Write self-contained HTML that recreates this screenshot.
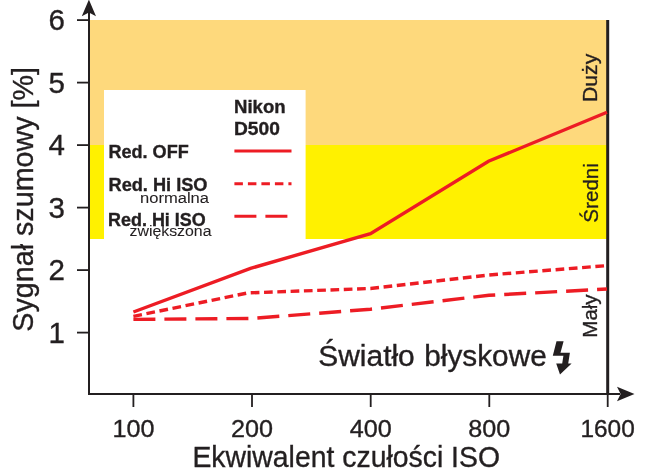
<!DOCTYPE html>
<html><head><meta charset="utf-8"><style>
html,body{margin:0;padding:0;background:#fff;width:650px;height:468px;overflow:hidden}
svg{display:block;will-change:transform}
text{font-family:"Liberation Sans",sans-serif;fill:#231F20;stroke:#231F20;stroke-width:0.35px}
</style></head><body>
<svg width="650" height="468" viewBox="0 0 650 468">
<!-- bands -->
<rect x="89" y="20" width="518" height="125" fill="#FED97C"/>
<rect x="89" y="145" width="518" height="94" fill="#FFF100"/>
<rect x="104" y="90" width="201.6" height="149" fill="#fff"/>

<!-- axes -->
<g fill="#231F20" stroke="none">
<rect x="88" y="12" width="2" height="383"/>
<polygon points="88.9,-0.4 96,16.2 88.9,12.6 81.8,16.2"/>
<rect x="88" y="393" width="532" height="2"/>
<polygon points="634.5,394 617,401.2 620.6,394 617,386.8"/>
<rect x="606.2" y="20" width="3" height="375"/>
<!-- y ticks -->
<rect x="77" y="19.2" width="12" height="1.8"/>
<rect x="77" y="81.7" width="12" height="1.8"/>
<rect x="77" y="144.2" width="12" height="1.8"/>
<rect x="77" y="206.7" width="12" height="1.8"/>
<rect x="77" y="269.2" width="12" height="1.8"/>
<rect x="77" y="331.7" width="12" height="1.8"/>
<!-- x ticks -->
<rect x="132.5" y="394" width="1.8" height="13"/>
<rect x="251.1" y="394" width="1.8" height="13"/>
<rect x="369.8" y="394" width="1.8" height="13"/>
<rect x="488.4" y="394" width="1.8" height="13"/>
<rect x="606.8" y="394" width="1.8" height="13"/>
</g>

<!-- y tick labels -->
<g font-size="29.5" text-anchor="end" transform="translate(0.8,0)">
<text x="64" y="30">6</text>
<text x="64" y="92.5">5</text>
<text x="64" y="155">4</text>
<text x="64" y="217.5">3</text>
<text x="64" y="280">2</text>
<text x="64" y="342.5">1</text>
</g>
<!-- x tick labels -->
<g font-size="23.5" text-anchor="middle">
<text x="133.4" y="437" textLength="42" lengthAdjust="spacingAndGlyphs">100</text>
<text x="252" y="437" textLength="42" lengthAdjust="spacingAndGlyphs">200</text>
<text x="370.7" y="437" textLength="42" lengthAdjust="spacingAndGlyphs">400</text>
<text x="489.3" y="437" textLength="42" lengthAdjust="spacingAndGlyphs">800</text>
<text x="607.6" y="437" textLength="54.3" lengthAdjust="spacingAndGlyphs">1600</text>
</g>

<!-- axis titles -->
<text x="192.4" y="467" font-size="29.5" textLength="307.6" lengthAdjust="spacingAndGlyphs">Ekwiwalent czułości ISO</text>
<text transform="translate(32.6,331.7) rotate(-90)" font-size="30" textLength="264.7" lengthAdjust="spacingAndGlyphs">Sygnał szumowy [%]</text>

<!-- right labels -->
<g font-size="21">
<text transform="translate(597.3,102) rotate(-90)" textLength="48.3" lengthAdjust="spacingAndGlyphs">Duży</text>
<text transform="translate(598.3,222.7) rotate(-90)" textLength="59.6" lengthAdjust="spacingAndGlyphs">Średni</text>
<text transform="translate(597,337.7) rotate(-90)" textLength="43.3" lengthAdjust="spacingAndGlyphs">Mały</text>
</g>

<!-- legend -->
<g font-weight="bold" font-size="17.5">
<text x="234" y="113" textLength="51.6" lengthAdjust="spacingAndGlyphs">Nikon</text>
<text x="234" y="134.7" textLength="45.8" lengthAdjust="spacingAndGlyphs">D500</text>
<text x="108.5" y="158.2" textLength="80.2" lengthAdjust="spacingAndGlyphs">Red. OFF</text>
<text x="108.5" y="190.5" textLength="99" lengthAdjust="spacingAndGlyphs">Red. Hi ISO</text>
<text x="108.1" y="226.4" textLength="97.6" lengthAdjust="spacingAndGlyphs">Red. Hi ISO</text>
</g>
<g font-size="14.5">
<text x="140" y="202.5" font-size="15.5" style="stroke-width:0.08px" textLength="69" lengthAdjust="spacingAndGlyphs">normalna</text>
<text x="129.5" y="235.7" font-size="15.5" style="stroke-width:0.08px" textLength="82" lengthAdjust="spacingAndGlyphs">zwiększona</text>
</g>
<g stroke="#ED1C24" stroke-width="3" fill="none">
<line x1="234.4" y1="151.1" x2="291.5" y2="151.1"/>
<line x1="234.4" y1="183.7" x2="291.5" y2="183.7" stroke-dasharray="8.5 5"/>
<line x1="234.4" y1="216.3" x2="288" y2="216.3" stroke-dasharray="22 9"/>
</g>

<!-- data -->
<g stroke="#ED1C24" stroke-width="3.4" fill="none" stroke-linejoin="miter">
<polyline points="133.4,312 250.5,268.4 370.5,233.6 488.5,161.3 607,112.2"/>
<polyline points="133.4,316.3 248,292.9 370.5,288.5 489,275 607,265.6" stroke-dasharray="8.7 4.6"/>
<polyline points="133.4,319.4 252,318.4 370.5,309.2 489,295.3 607,289" stroke-dasharray="22 9"/>
</g>

<!-- flash label -->
<text x="318.2" y="366.2" font-size="28.6" textLength="96.6" lengthAdjust="spacingAndGlyphs">Światło</text>
<text x="424.3" y="366.2" font-size="28.6" textLength="122.4" lengthAdjust="spacingAndGlyphs">błyskowe</text>
<polygon fill="#231F20" points="556.5,341.3 563.6,341.3 560.5,352.8 569.9,352.8 568.2,363.4 571.6,363.4 560,374.4 556.2,363.4 562.2,363.4 563.4,355.7 552.8,355.7"/>
</svg>
</body></html>
